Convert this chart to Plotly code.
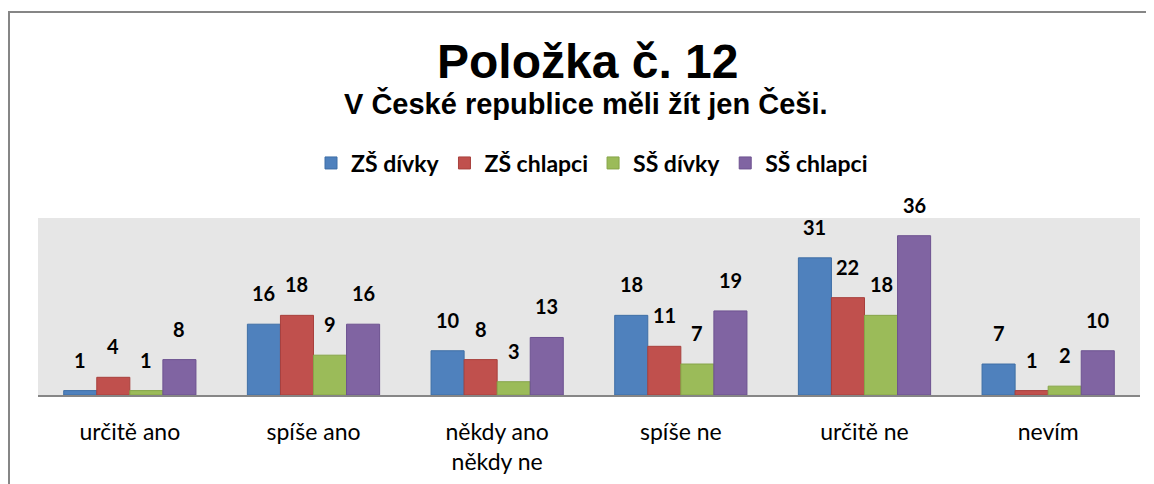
import plotly.graph_objects as go

categories = ["určitě ano", "spíše ano", "někdy ano<br>někdy ne", "spíše ne", "určitě ne", "nevím"]
series_names = ["ZŠ dívky", "ZŠ chlapci", "SŠ dívky", "SŠ chlapci"]
zs_divky = [1, 16, 10, 18, 31, 7]
zs_chlapci = [4, 18, 8, 11, 22, 1]
ss_divky = [1, 9, 3, 7, 18, 2]
ss_chlapci = [8, 16, 13, 19, 36, 10]

colors = ["#4F81BD", "#C0504D", "#9BBB59", "#8064A2"]
edge = ["#3F6FA6", "#A8403D", "#86A548", "#6D5290"]
values = [zs_divky, zs_chlapci, ss_divky, ss_chlapci]

BODY = "Lato, Open Sans, sans-serif"
TITLE = "Liberation Sans, Arial, sans-serif"

OFF = 8  # page body margin
W, H = 1154, 484
L, R, T = 30, 22, 210
B = H - (395 - OFF)
pw = W - L - R
ph = H - T - B
BARGAP = 0.28


def px(x):
    return (x - OFF - L) / pw


def py(y):
    return (395 - y) / ph


fig = go.Figure()
for name, vals, c, e in zip(series_names, values, colors, edge):
    fig.add_trace(go.Bar(
        name="<b>" + name + "</b>", x=categories, y=vals,
        marker=dict(color=c, line=dict(color=e, width=1)),
        cliponaxis=False,
    ))

bar_w = pw / len(categories) * (1 - BARGAP) / len(values)
annotations = []
for i, vals in enumerate(values):
    for cat, v in zip(categories, vals):
        annotations.append(dict(
            x=cat, y=v, xref="x", yref="y", text="<b>%d</b>" % v, showarrow=False,
            xanchor="center", yanchor="bottom", xshift=(i - 1.5) * bar_w, yshift=17,
            font=dict(family=BODY, size=20, color="#000000"),
        ))

annotations += [
    dict(text="<b>Položka č. 12</b>", x=px(587), y=py(62), xref="paper", yref="paper",
         showarrow=False, xanchor="center", yanchor="middle",
         font=dict(family=TITLE, size=48, color="#000000")),
    dict(text="<b>V České republice měli žít jen Češi.</b>", x=px(586), y=py(104), xref="paper", yref="paper",
         showarrow=False, xanchor="center", yanchor="middle",
         font=dict(family=TITLE, size=29, color="#000000")),
]

fig.update_layout(
    width=W, height=H,
    margin=dict(l=L, r=R, t=T, b=B),
    paper_bgcolor="#FFFFFF",
    plot_bgcolor="#E6E6E6",
    barmode="group",
    bargap=BARGAP,
    bargroupgap=0.0,
    showlegend=True,
    legend=dict(orientation="h", x=px(592), xanchor="center", y=py(163), yanchor="middle",
                font=dict(family=BODY, size=23, color="#000000"),
                itemwidth=30, traceorder="normal"),
    annotations=annotations,
    shapes=[
        dict(type="rect", xref="paper", yref="paper", x0=px(9), x1=px(1175), y0=py(12), y1=py(510),
             line=dict(color="#868686", width=2), fillcolor="rgba(0,0,0,0)", layer="below"),
    ],
    xaxis=dict(showgrid=False, showline=True, linecolor="#868686", linewidth=1.5,
               tickfont=dict(family=BODY, size=23, color="#000000"),
               ticks="", ticklabelstandoff=16, fixedrange=True),
    yaxis=dict(range=[0, 40], showgrid=False, zeroline=False, showticklabels=False,
               ticks="", fixedrange=True),
)
fig.write_html("out.html")
